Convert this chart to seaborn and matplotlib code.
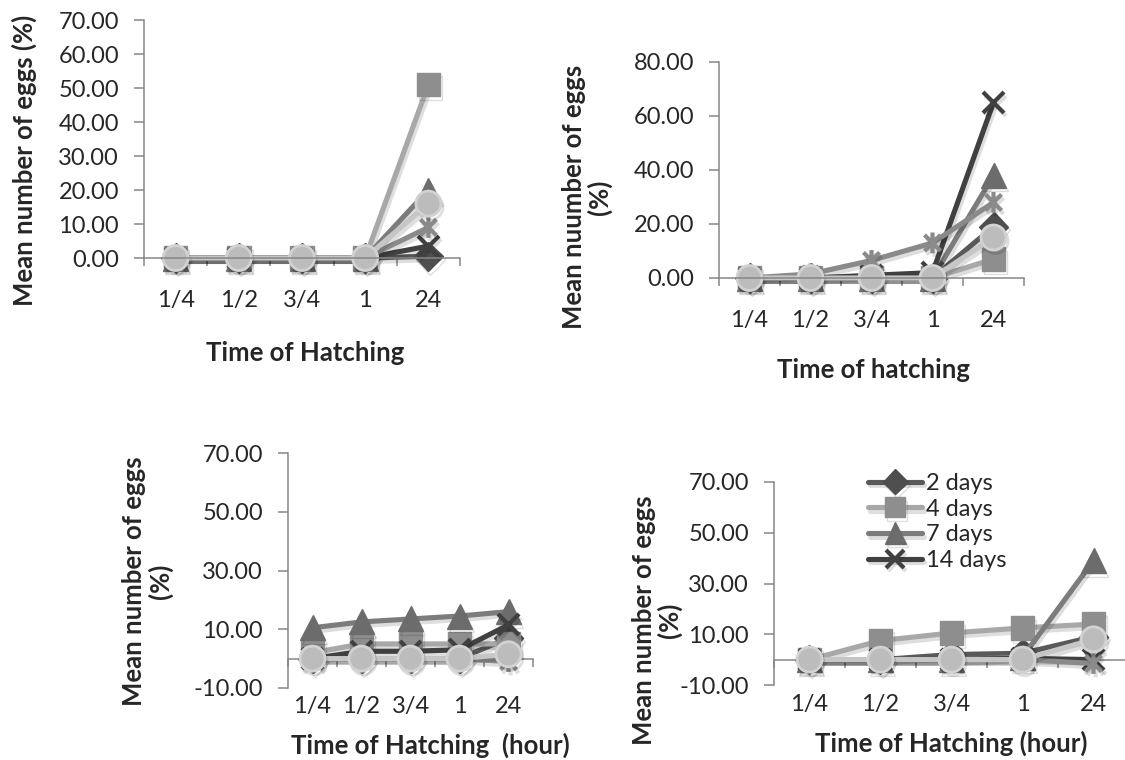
import numpy as np
import pandas as pd
import matplotlib
matplotlib.use('Agg')
import matplotlib.pyplot as plt
import matplotlib.patheffects as pe
from matplotlib.path import Path
import seaborn as sns

sns.set_style('white')
plt.rcParams['font.family'] = ['Lato', 'DejaVu Sans']

# ---- data ----
hatch_times = ['1/4', '1/2', '3/4', '1', '24']
series_names = ['2 days', '4 days', '7 days', '14 days', '21 days', '28 days']

# one row per series, in the order of series_names
top_left = [
    [0, 0, 0, 0, 0.5],
    [0, 0, 0, 0, 51],
    [0, 0, 0, 0, 20],
    [0, 0, 0, 0, 3.5],
    [0, 0, 0, 0, 9],
    [0, 0, 0, 0, 16],
]
top_right = [
    [0, 0, 0, 0, 19],
    [0, 0, 0, 0, 7],
    [0, 0, 0, 0, 38],
    [0, 0, 1, 2, 65],
    [0, 1.5, 6.5, 13, 28],
    [0, 0, 0, 0, 15],
]
bottom_left = [
    [0, 0, 0, 0, 7],
    [2, 5, 5, 5, 5],
    [10.5, 12.5, 13.5, 14.5, 16],
    [0, 2.5, 2.5, 3, 11.5],
    [0, 0, 0, 0, -1],
    [0, 0, 0, 0, 1.5],
]
bottom_right = [
    [0, 0, 2, 2.5, 9],
    [0, 7.5, 10.5, 12.5, 14],
    [0, 0, 0, 1, 39],
    [0, 0, 0, 0.5, 0],
    [0, 0, 0, 0, -1.5],
    [0, 0, 0, 0, 8],
]

# Excel-like "star" marker: an X with a vertical bar
star = Path([(-1, -1), (1, 1), (-1, 1), (1, -1), (0, -1.3), (0, 1.3)],
            [Path.MOVETO, Path.LINETO, Path.MOVETO, Path.LINETO, Path.MOVETO, Path.LINETO])

styles = {
    '2 days':  dict(color='#595959', marker='D', ms=15, mfc='#4e4e4e', mec='#4e4e4e', mew=1),
    '4 days':  dict(color='#a8a8a8', marker='s', ms=17, mfc='#8e8e8e', mec='#8e8e8e', mew=1),
    '7 days':  dict(color='#7c7c7c', marker='^', ms=18, mfc='#6c6c6c', mec='#6c6c6c', mew=1),
    '14 days': dict(color='#404040', marker='x', ms=15, mfc='none', mec='#404040', mew=3),
    '21 days': dict(color='#8a8a8a', marker=star, ms=15, mfc='none', mec='#8a8a8a', mew=3),
    '28 days': dict(color='#c6c6c6', marker='o', ms=18, mfc='#bcbcbc', mec='#d2d2d2', mew=2),
}

GRAY = '#868686'
TICK_FS = 17
LABEL_FS = 18.5
shadow = [pe.SimpleLineShadow(offset=(1.5, -2.5), alpha=0.13, shadow_color='k'), pe.Normal()]


def draw_panel(ax, values, ylim, yticks, xlabel, ylabel, xpad, zero_line):
    rows = []
    for name, vals in zip(series_names, values):
        for pos, v in enumerate(vals):
            rows.append({'series': name, 'pos': pos, 'value': v})
    df = pd.DataFrame(rows)

    for name in series_names:
        st = styles[name]
        sns.lineplot(data=df[df['series'] == name], x='pos', y='value', ax=ax,
                     color=st['color'], marker=st['marker'], markersize=st['ms'],
                     markerfacecolor=st['mfc'], markeredgecolor=st['mec'],
                     markeredgewidth=st['mew'], linewidth=3.7, label=name,
                     errorbar=None, legend=False, path_effects=shadow, clip_on=False)

    ax.set_xlim(-0.5, len(hatch_times) - 0.5)
    ax.set_ylim(*ylim)
    ax.set_yticks(yticks)
    ax.set_yticklabels([f'{t:.2f}' for t in yticks])
    ax.set_xticks(range(len(hatch_times)))
    ax.set_xticklabels(hatch_times)
    ax.tick_params(axis='x', which='major', length=0, pad=xpad, labelsize=TICK_FS)
    ax.tick_params(axis='y', length=7, width=1.1, color=GRAY, pad=11,
                   direction='out', left=True, labelsize=TICK_FS)

    for s in ['top', 'right']:
        ax.spines[s].set_visible(False)
    ax.spines['left'].set_color(GRAY)
    ax.spines['left'].set_linewidth(1.1)

    bounds = np.arange(-0.5, len(hatch_times), 1.0)
    if zero_line:
        ax.spines['bottom'].set_visible(False)
        frac = (0 - ylim[0]) / (ylim[1] - ylim[0])
        sec = ax.secondary_xaxis(frac)
        sec.set_xticks(bounds)
        sec.set_xticklabels([])
        sec.tick_params(length=6, width=1.1, color=GRAY, direction='out')
        for sp in sec.spines.values():
            sp.set_color(GRAY)
            sp.set_linewidth(1.1)
    else:
        ax.spines['bottom'].set_color(GRAY)
        ax.spines['bottom'].set_linewidth(1.1)
        ax.set_xticks(bounds, minor=True)
        ax.tick_params(axis='x', which='minor', length=6, width=1.1,
                       color=GRAY, direction='out', bottom=True)

    ax.set_xlabel(xlabel, fontsize=LABEL_FS, fontweight='bold')
    ax.set_ylabel(ylabel, fontsize=LABEL_FS, fontweight='bold', linespacing=1.05)


fig = plt.figure(figsize=(11.25, 7.6), dpi=100)
W, H = 1125, 760


def add_axes_px(left, top, right, bottom):
    return fig.add_axes([left / W, 1 - bottom / H, (right - left) / W, (bottom - top) / H])


ax1 = add_axes_px(144, 20, 460, 258)
draw_panel(ax1, top_left, (0, 70), np.arange(0, 71, 10), 'Time of Hatching',
           'Mean number of eggs (%)', 23, False)
ax1.xaxis.set_label_coords(0.51, -0.35)
ax1.yaxis.set_label_coords(-0.34, 0.41)

ax2 = add_axes_px(719, 62, 1024, 278)
draw_panel(ax2, top_right, (0, 80), np.arange(0, 81, 20), 'Time of hatching',
           'Mean nuumber of eggs\n(%)', 23, False)
ax2.xaxis.set_label_coords(0.505, -0.37)
ax2.yaxis.set_label_coords(-0.35, 0.375)

ax3 = add_axes_px(288, 453, 533, 688)
draw_panel(ax3, bottom_left, (-10, 70), np.arange(-10, 71, 20), 'Time of Hatching  (hour)',
           'Mean number of eggs\n(%)', 6, True)
ax3.xaxis.set_label_coords(0.58, -0.19)
ax3.yaxis.set_label_coords(-0.47, 0.455)

ax4 = add_axes_px(774, 482, 1129, 685)
draw_panel(ax4, bottom_right, (-10, 70), np.arange(-10, 71, 20), 'Time of Hatching (hour)',
           'Mean number of eggs\n(%)', 6.5, True)
ax4.xaxis.set_label_coords(0.5, -0.225)
ax4.yaxis.set_label_coords(-0.258, 0.32)

handles = ax4.get_lines()[:4]
ax4.legend(handles, series_names[:4], loc='upper left', bbox_to_anchor=(0.265, 1.045),
           frameon=False, fontsize=TICK_FS, handlelength=2.3, handletextpad=0.15,
           labelspacing=0.2, numpoints=1, borderaxespad=0, borderpad=0, markerscale=0.85)

fig.savefig('out.png', dpi=100)
